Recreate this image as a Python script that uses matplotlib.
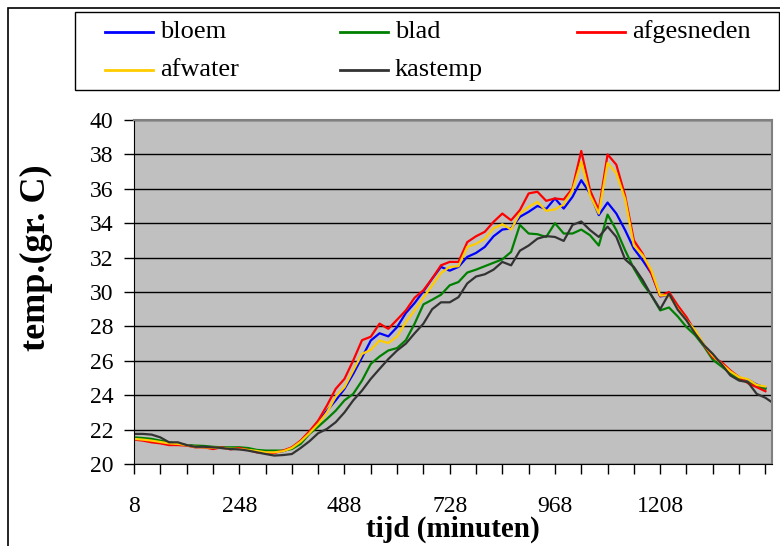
import numpy as np
import matplotlib.pyplot as plt
from matplotlib.lines import Line2D
from matplotlib.patches import Rectangle

plt.rcParams["font.family"] = ["Liberation Serif", "DejaVu Serif"]

nan = np.nan

# time in minutes, one reading every 20 minutes
minutes = list(range(8, 1469, 20))

bloem = [21.46, 21.44, 21.4, 21.3, 21.22, 21.17, 21.09, 21.03, 20.97, 20.95,
         20.93, 20.89, 20.87, 20.82, 20.76, 20.68, 20.68, 20.74, 20.93, 21.26,
         21.79, 22.43, 23.1, 23.7, 24.37, 25.24, 26.2, 27.18, 27.6, 27.42,
         27.96, 28.78, 29.36, 30.04, 30.78, 31.46, 31.24, 31.46, 32.04, 32.27,
         32.62, 33.24, 33.63, 33.7, 34.37, 34.66, 35.0, 34.83, 35.44, 34.85,
         35.53, 36.5, 35.73, 34.47, 35.2, 34.56, 33.6, 32.52, 31.84, 31.07,
         29.75, 29.8, 29.13, 28.45, 27.67, 26.9, 26.3, 25.82, 25.34, 24.99,
         24.9, 24.62, 24.43, nan]

blad = [21.55, 21.51, 21.46, 21.36, 21.26, 21.17, 21.1, 21.07, 21.05, 21.0,
        20.97, 20.97, 20.97, 20.93, 20.82, 20.78, 20.78, 20.78, 20.87, 21.17,
        21.75, 22.17, 22.62, 23.1, 23.7, 24.08, 24.85, 25.82, 26.25, 26.6,
        26.74, 27.2, 28.16, 29.28, 29.55, 29.84, 30.39, 30.58, 31.13, 31.3,
        31.5, 31.7, 31.9, 32.33, 33.9, 33.4, 33.36, 33.2, 34.0, 33.4,
        33.4, 33.63, 33.3, 32.7, 34.5, 33.6, 32.43, 31.36, 30.5, 29.8,
        28.93, 29.1, 28.58, 27.96, 27.48, 26.83, 26.06, 25.67, 25.28, 24.95,
        24.76, 24.5, 24.37, nan]

afgesneden = [21.42, 21.36, 21.26, 21.2, 21.1, 21.1, 21.07, 20.97, 20.97, 20.87,
              20.97, 20.85, 20.93, 20.82, 20.68, 20.64, 20.64, 20.78, 20.97, 21.36,
              21.9, 22.52, 23.4, 24.37, 24.95, 26.02, 27.2, 27.4, 28.16, 27.86,
              28.39, 28.93, 29.67, 30.1, 30.78, 31.55, 31.75, 31.75, 32.9, 33.24,
              33.5, 34.08, 34.56, 34.17, 34.76, 35.73, 35.83, 35.3, 35.44, 35.38,
              36.02, 38.2, 35.92, 34.76, 38.0, 37.4, 35.6, 33.0, 32.23, 31.07,
              29.75, 30.0, 29.22, 28.54, 27.67, 26.9, 26.2, 25.92, 25.44, 25.05,
              24.7, 24.47, 24.23, nan]

afwater = [21.46, 21.42, 21.36, 21.28, 21.2, 21.17, 21.09, 21.0, 20.97, 20.95,
           20.93, 20.89, 20.87, 20.82, 20.76, 20.68, 20.68, 20.74, 20.93, 21.3,
           21.79, 22.33, 23.0, 23.92, 24.47, 25.44, 26.4, 26.64, 27.18, 27.03,
           27.42, 28.25, 28.93, 29.67, 30.39, 31.1, 31.46, 31.5, 32.62, 32.8,
           33.1, 33.7, 33.94, 33.63, 34.56, 34.95, 35.24, 34.72, 34.8, 35.09,
           35.92, 37.57, 35.63, 34.56, 37.5, 36.9, 35.4, 32.7, 32.14, 31.26,
           29.8, 29.8, 29.03, 28.35, 27.77, 26.93, 26.3, 25.82, 25.38, 25.05,
           24.93, 24.6, 24.5, nan]

kastemp = [21.75, 21.75, 21.71, 21.55, 21.26, 21.26, 21.1, 21.0, 21.0, 20.97,
           20.93, 20.87, 20.85, 20.78, 20.68, 20.58, 20.49, 20.52, 20.58, 20.93,
           21.32, 21.79, 22.04, 22.43, 23.0, 23.7, 24.27, 24.95, 25.53, 26.1,
           26.6, 27.0, 27.6, 28.16, 29.0, 29.4, 29.4, 29.7, 30.5, 30.9,
           31.03, 31.3, 31.75, 31.55, 32.4, 32.7, 33.1, 33.25, 33.2, 32.97,
           33.9, 34.1, 33.6, 33.2, 33.8, 33.2, 31.9, 31.45, 30.7, 29.8,
           29.0, 29.9, 28.97, 28.35, 27.57, 26.9, 26.4, 25.8, 25.15, 24.85,
           24.76, 24.08, 23.85, 23.5]

series = [
    ("bloem", bloem, "#0000FF"),
    ("blad", blad, "#008000"),
    ("afgesneden", afgesneden, "#FF0000"),
    ("afwater", afwater, "#FFCC00"),
    ("kastemp", kastemp, "#333333"),
]

W, H = 780, 546
fig = plt.figure(figsize=(W / 100, H / 100), dpi=100)


def fx(px):
    return px / W


def fy(py):
    return 1 - py / H


ax = fig.add_axes([fx(134), fy(464), fx(772) - fx(134), fy(120) - fy(464)])
ax.set_facecolor("#C0C0C0")

for name, vals, col in series:
    ax.plot(minutes, vals, color=col, lw=1.6, label=name)

ax.set_xlim(8, 1463)
ax.set_ylim(20, 40)
ax.set_yticks(range(20, 41, 2))
ax.yaxis.grid(True, color="black", lw=1)
ax.set_axisbelow(True)

xt = list(range(8, 1449, 60))
ax.set_xticks(xt)
ax.set_xticklabels([str(t) if (i % 4 == 0 and t <= 1208) else "" for i, t in enumerate(xt)])

ax.tick_params(axis="x", direction="out", length=7, width=1, pad=16, labelsize=17)
ax.tick_params(axis="y", direction="out", length=7, width=1, pad=8, labelsize=17)

ax.spines["top"].set_color("#808080")
ax.spines["right"].set_color("#808080")
ax.spines["top"].set_linewidth(1.5)
ax.spines["right"].set_linewidth(1.5)

ax.set_xlabel("tijd (minuten)", fontsize=21, fontweight="bold", va="center")
ax.xaxis.set_label_coords(0.5, -0.19)
ax.set_ylabel("temp.(gr. C)", fontsize=26, fontweight="bold", va="center")
ax.yaxis.set_label_coords(-0.1536, 0.599)

# chart area border
fig.add_artist(Rectangle((fx(8), fy(560)), fx(800) - fx(8), fy(8) - fy(560),
                         transform=fig.transFigure, fill=False, ec="black", lw=1.2))

# legend box, laid out like the spreadsheet one
fig.add_artist(Rectangle((fx(75), fy(90)), fx(779) - fx(75), fy(12) - fy(90),
                         transform=fig.transFigure, fill=False, ec="black", lw=1))
legend_pos = [(105, 32), (340, 32), (577, 32), (105, 70), (340, 70)]
for (name, vals, col), (lx, ly) in zip(series, legend_pos):
    fig.add_artist(Line2D([fx(lx), fx(lx + 48)], [fy(ly), fy(ly)],
                          transform=fig.transFigure, color=col, lw=2))
    fig.text(fx(lx + 55), fy(ly), name, fontsize=19, va="center", ha="left")

fig.savefig("out.png", dpi=100)
